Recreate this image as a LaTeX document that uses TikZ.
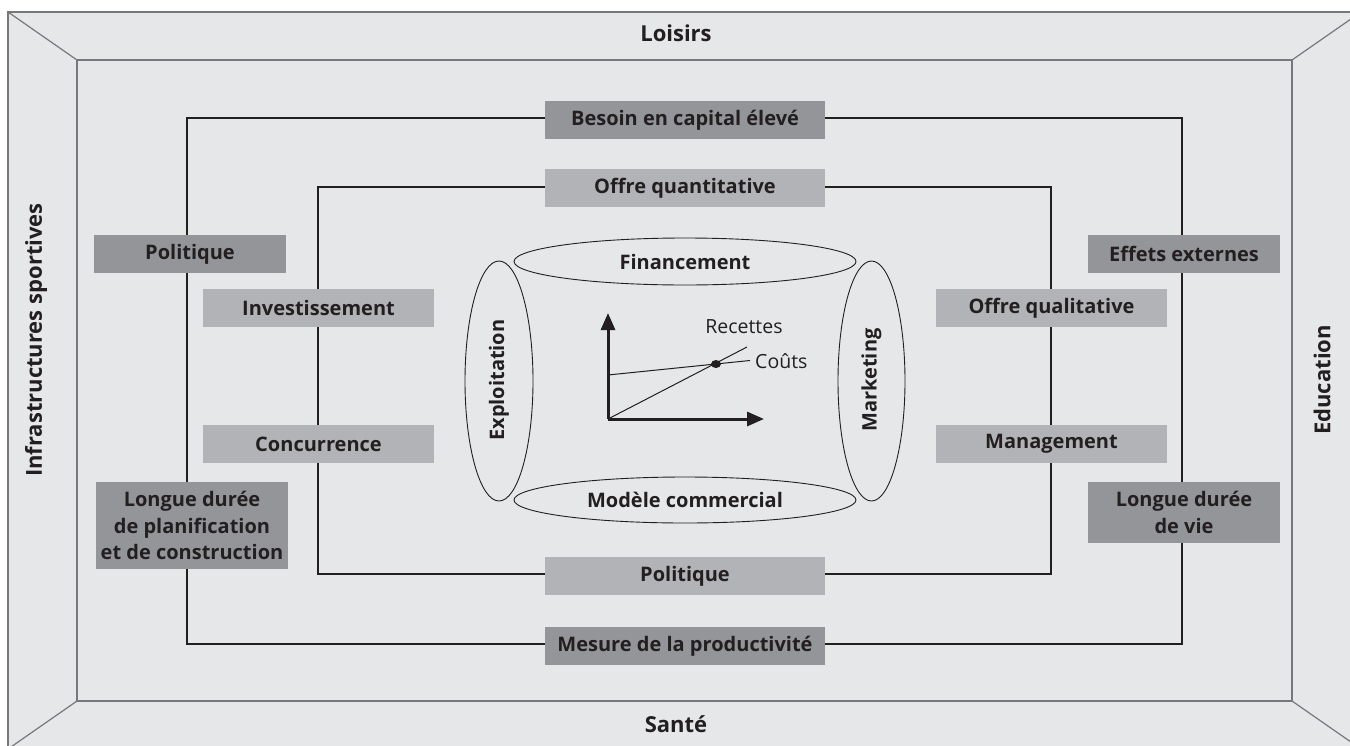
\documentclass[tikz,border=0pt]{standalone}
\usepackage{fontspec}
\setmainfont{Open Sans}
\usetikzlibrary{arrows.meta,shapes.geometric}
\definecolor{framefill}{HTML}{E6E7E8}
\definecolor{frameline}{HTML}{77787B}
\definecolor{darkbox}{HTML}{939598}
\definecolor{lightbox}{HTML}{B2B3B6}
\definecolor{ink}{HTML}{231F20}
\tikzset{
  boxbase/.style={draw=none, inner sep=0pt, align=center, text=ink,
    font=\fontsize{20}{26.5}\selectfont\bfseries},
  darkfactor/.style={boxbase, fill=darkbox, minimum width=192pt, minimum height=38pt},
  lightfactor/.style={boxbase, fill=lightbox, minimum width=231pt, minimum height=38pt},
  wideDark/.style={boxbase, fill=darkbox, minimum width=280pt, minimum height=38pt},
  wideLight/.style={boxbase, fill=lightbox, minimum width=280pt, minimum height=38pt},
  sidelabel/.style={inner sep=0pt, text=ink, font=\fontsize{22}{26}\selectfont\bfseries},
  ring/.style={ellipse, draw=ink, line width=0.9pt, inner sep=0pt},
  ringlabel/.style={inner sep=0pt, text=ink, font=\fontsize{20}{24}\selectfont\bfseries},
  axis/.style={line width=3pt, draw=ink, -{Triangle[length=17pt,width=14pt]}},
  curve/.style={line width=1pt, draw=ink},
  plotlabel/.style={inner sep=0pt, text=ink, font=\fontsize{19.5}{23}\selectfont},
  levelframe/.style={draw=ink, line width=2pt},
}
\begin{document}
\begin{tikzpicture}[x=1pt, y=-1pt]
\useasboundingbox (0,0) rectangle (1350,745);
\begin{scope}
\clip (0,0) rectangle (1350,745);
% room seen in perspective: back wall and four side planes
\draw[fill=framefill, draw=frameline, line width=1.5pt] (8,12) rectangle (1361,749);
\draw[fill=framefill, draw=frameline, line width=1.5pt] (77,60) rectangle (1292,701);
\draw[frameline, line width=1.2pt] (8,12) -- (77,60);
\draw[frameline, line width=1.2pt] (1361,12) -- (1292,60);
\draw[frameline, line width=1.2pt] (8,749) -- (77,701);
\draw[frameline, line width=1.2pt] (1361,749) -- (1292,701);
\end{scope}

% wall labels
\node[sidelabel] (loisirs) at (676,33) {Loisirs};
\node[sidelabel] (sante) at (676,724) {Santé};
\node[sidelabel, rotate=90] (infra) at (36,340) {Infrastructures sportives};
\node[sidelabel, rotate=90] (educ) at (1322,380) {Education};

% the two nested levels
\draw[levelframe] (187,118) rectangle (1182,644);
\draw[levelframe] (318,187) rectangle (1051,574);

% outer level factors
\node[wideDark] (besoin) at (685,120) {Besoin en capital élevé};
\node[wideDark] (mesure) at (685,646) {Mesure de la productivité};
\node[darkfactor] (polL) at (190,254) {Politique};
\node[darkfactor, minimum height=87pt] (longL) at (192,525.5)
  {Longue durée\\de planification\\et de construction};
\node[darkfactor] (effets) at (1184,254) {Effets externes};
\node[darkfactor, minimum height=61pt] (longR) at (1184,512.5) {Longue durée\\de vie};

% inner level factors
\node[wideLight] (offreQ) at (685,188) {Offre quantitative};
\node[wideLight] (polB) at (685,576) {Politique};
\node[lightfactor] (invest) at (318.5,308) {Investissement};
\node[lightfactor] (concur) at (318.5,444) {Concurrence};
\node[lightfactor] (offreQl) at (1051.5,308) {Offre qualitative};
\node[lightfactor] (manag) at (1051.5,444) {Management};

% core: four rings around the break-even chart
\node[ring, minimum width=342pt, minimum height=47pt] (fin) at (685,261.5) {};
\node[ringlabel] (finT) at (685,262) {Financement};
\node[ring, minimum width=342pt, minimum height=46pt] (mod) at (685,500) {};
\node[ringlabel] (modT) at (685,500) {Modèle commercial};
\node[ring, minimum width=68pt, minimum height=240pt] (expl) at (499,381) {};
\node[ringlabel, rotate=90] (explT) at (499,380) {Exploitation};
\node[ring, minimum width=67pt, minimum height=240pt] (mark) at (871.5,381) {};
\node[ringlabel, rotate=90] (markT) at (871.5,380) {Marketing};

% break-even chart
\coordinate (o) at (608,419);
\coordinate (ytip) at (608,313);
\coordinate (xtip) at (764,419);
\coordinate (c0) at (608,375);
\coordinate (c1) at (750,360.5);
\coordinate (r1) at (747,347);
\draw[axis] (o) -- (ytip);
\draw[axis] (o) -- (xtip);
\draw[curve] (c0) -- (c1);
\draw[curve] (o) -- (r1);
\fill[ink] (716,364) ellipse (5pt and 4pt);
\node[plotlabel] (rec) at (744,327) {Recettes};
\node[plotlabel, anchor=west] (cou) at (755,361) {Coûts};
\end{tikzpicture}
\end{document}
